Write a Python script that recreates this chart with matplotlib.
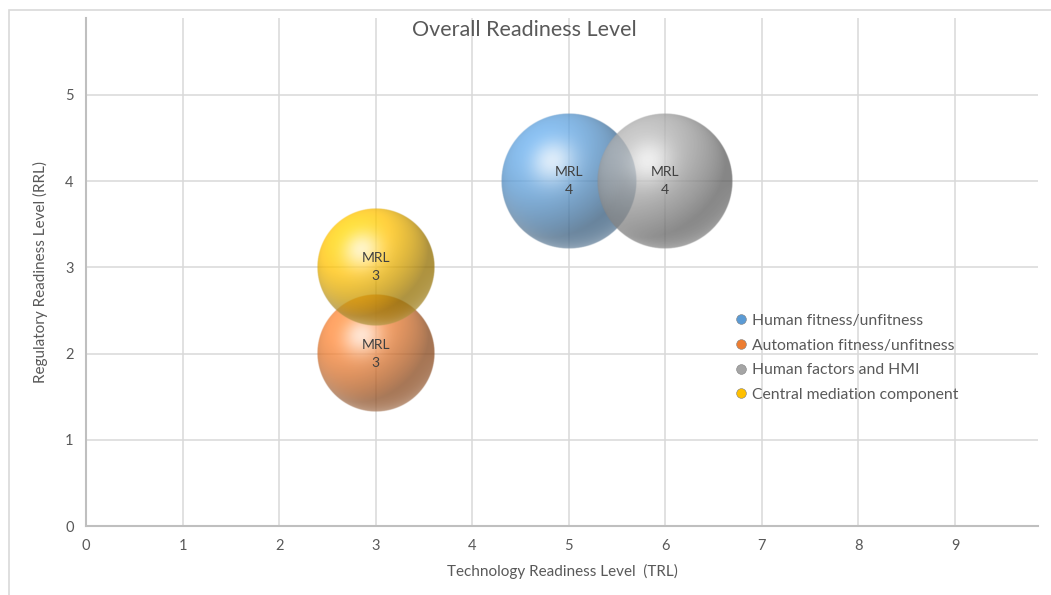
import matplotlib.pyplot as plt
import numpy as np
from matplotlib.lines import Line2D
from matplotlib.patches import Rectangle

# data
series = ['Human fitness/unfitness', 'Automation fitness/unfitness',
          'Human factors and HMI', 'Central mediation component']
trl = [5, 3, 6, 3]
rrl = [4, 2, 4, 3]
mrl = [4, 3, 4, 3]
colors = ['#5B9BD5', '#ED7D31', '#A5A5A5', '#FFC000']

plt.rcParams['font.family'] = ['Lato', 'DejaVu Sans']
txt = '#595959'

fig = plt.figure(figsize=(10.51, 5.95), dpi=100)
W, H = 1051, 595
ax = fig.add_axes([86 / W, (H - 526) / H, (1038 - 86) / W, (526 - 18) / H])
ax.set_xlim(0, 9.86)
ax.set_ylim(0, 5.89)

# outer chart border
fig.patches.append(Rectangle((9 / W, -0.2), 2, 1.2 - 10 / H, transform=fig.transFigure,
                             fill=False, edgecolor='#d9d9d9', lw=1.2, clip_on=False))

ax.set_xticks(range(0, 10))
ax.set_yticks(range(0, 6))
ax.grid(True, color='#d9d9d9', lw=1.1)
ax.set_axisbelow(True)
for s in ['top', 'right']:
    ax.spines[s].set_visible(False)
for s in ['left', 'bottom']:
    ax.spines[s].set_color('#bfbfbf')
    ax.spines[s].set_linewidth(1.5)
ax.tick_params(length=0, colors=txt, labelsize=10.5, pad=9)
ax.set_xlabel('Technology Readiness Level  (TRL)', color=txt, fontsize=11, labelpad=8)
ax.set_ylabel('Regulatory Readiness Level (RRL)', color=txt, fontsize=11, labelpad=12)
fig.text(524 / W, 1 - 30 / H, 'Overall Readiness Level', color=txt, fontsize=15.5,
         ha='center', va='center')


def sphere(base, n=300):
    u = np.linspace(-1, 1, n)
    X, Y = np.meshgrid(u, u)
    r2 = X ** 2 + Y ** 2
    Z = np.sqrt(np.clip(1 - r2, 0, 1))
    L = np.array([-0.45, 0.55, 0.70])
    L = L / np.linalg.norm(L)
    diff = np.clip(X * L[0] + Y * L[1] + Z * L[2], 0, 1)
    Hv = L + np.array([0, 0, 1.0])
    Hv = Hv / np.linalg.norm(Hv)
    spec = np.clip(X * Hv[0] + Y * Hv[1] + Z * Hv[2], 0, 1) ** 18
    rim = np.clip((Y < 0) * (r2 ** 3) * (-Y), 0, 1) * 0.3
    b = np.array(plt.matplotlib.colors.to_rgb(base))
    col = b[None, None, :] * (0.58 + 0.55 * diff[..., None])
    col = col + (1 - col) * (0.7 * spec + rim)[..., None]
    col = np.clip(col, 0, 1)
    edge = np.clip((1 - np.sqrt(r2)) * n / 3, 0, 1)
    alpha = 0.76 * edge
    return np.dstack([col, alpha])


# bubble size by area, largest radius ~68 px
r_max = 68
p0 = ax.transData.transform((0, 0))
p1 = ax.transData.transform((1, 1))
px_x, px_y = p1 - p0
for i in range(len(series)):
    r = r_max * np.sqrt(mrl[i] / max(mrl))
    rx, ry = r / px_x, r / px_y
    ax.imshow(sphere(colors[i]), origin='lower', interpolation='bilinear',
              extent=[trl[i] - rx, trl[i] + rx, rrl[i] - ry, rrl[i] + ry],
              aspect='auto', zorder=3 + i)
    ax.text(trl[i], rrl[i], 'MRL\n%d' % mrl[i], ha='center', va='center',
            color='#404040', fontsize=10, linespacing=1.6, zorder=10)
ax.set_xlim(0, 9.86)
ax.set_ylim(0, 5.89)

handles = [Line2D([], [], ls='none', marker='o', markersize=7, markerfacecolor=c,
                  markeredgecolor='#7f7f7f', markeredgewidth=0.4) for c in colors]
ax.legend(handles, series, loc='upper left', bbox_to_anchor=(728 / W, 1 - 306 / H),
          bbox_transform=fig.transFigure, frameon=False, fontsize=11.3, labelcolor=txt,
          handlelength=0.6, handletextpad=0.4, labelspacing=0.68, borderpad=0)

fig.savefig('out.png', dpi=100)
